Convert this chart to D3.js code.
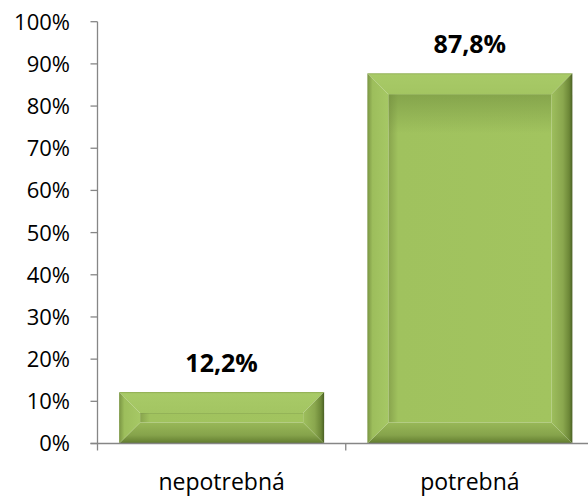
<!DOCTYPE html>
<html>
<head>
<meta charset="utf-8">
<script src="https://cdn.jsdelivr.net/npm/d3@7"></script>
<style>
  body { margin: 0; background: #fff; }
  text { font-family: 'Open Sans', 'Noto Sans', sans-serif; fill: #000; }
</style>
</head>
<body>
<svg id="chart" width="588" height="499"></svg>
<script>
// data
const categories = ['nepotrebná', 'potrebná']
const values = [0.122, 0.878]
const valueLabels = ['12,2%', '87,8%']
const yTicks = [0, 0.1, 0.2, 0.3, 0.4, 0.5, 0.6, 0.7, 0.8, 0.9, 1]

const svg = d3.select('#chart')

// plot area
const plotLeft = 97.5
const plotRight = 594
const plotTop = 21.7
const plotBottom = 443.5

const xPositionScale = d3.scaleBand()
  .domain(categories)
  .range([plotLeft, plotRight])
  .paddingInner(0.174)
  .paddingOuter(0.087)

const yPositionScale = d3.scaleLinear()
  .domain([0, 1])
  .range([plotBottom, plotTop])

// gradients for the bevelled look
const defs = svg.append('defs')
function grad(id, dir, stops) {
  const g = defs.append('linearGradient').attr('id', id)
  if (dir === 'v') g.attr('x1', 0).attr('y1', 0).attr('x2', 0).attr('y2', 1)
  else g.attr('x1', 0).attr('y1', 0).attr('x2', 1).attr('y2', 0)
  stops.forEach(s => g.append('stop').attr('offset', s[0]).attr('stop-color', s[1]))
}
grad('g-top', 'v', [[0, '#8eab52'], [0.08, '#a8ca67'], [1, '#a3c562']])
grad('g-left', 'h', [[0, '#7a9543'], [0.25, '#9dbe5c'], [1, '#a6c865']])
grad('g-right', 'h', [[0, '#9ebf5d'], [0.55, '#8aa74e'], [0.85, '#6c8737'], [1, '#4a6024']])
grad('g-bottom', 'v', [[0, '#98b858'], [0.6, '#86a34b'], [0.9, '#6a8535'], [1, '#55702a']])
grad('g-face-h', 'h', [[0, '#88a44d'], [0.06, '#a0c25e'], [1, '#a2c45f']])
grad('g-face-v', 'v', [[0, 'rgba(110,140,60,0.55)'], [0.12, 'rgba(110,140,60,0)'], [1, 'rgba(110,140,60,0)']])

// y axis
svg.append('line')
  .attr('x1', plotLeft).attr('x2', plotLeft)
  .attr('y1', plotTop).attr('y2', plotBottom)
  .attr('stroke', '#868686').attr('stroke-width', 1.3)

yTicks.forEach(t => {
  svg.append('line')
    .attr('x1', plotLeft - 7).attr('x2', plotLeft)
    .attr('y1', yPositionScale(t)).attr('y2', yPositionScale(t))
    .attr('stroke', '#868686').attr('stroke-width', 1.3)
  svg.append('text')
    .attr('x', 70)
    .attr('y', yPositionScale(t))
    .attr('dy', '0.36em')
    .attr('text-anchor', 'end')
    .attr('font-size', 22)
    .text(Math.round(t * 100) + '%')
})

// bars
categories.forEach((c, i) => {
  const x0 = xPositionScale(c)
  const x1 = x0 + xPositionScale.bandwidth()
  const y0 = yPositionScale(values[i])
  const y1 = yPositionScale(0)
  const h = y1 - y0
  const b = Math.min(21, h / 2 - 4)
  const g = svg.append('g')
  const poly = pts => pts.map(p => p.join(',')).join(' ')

  g.append('rect')
    .attr('x', x0 + b).attr('y', y0 + b)
    .attr('width', x1 - x0 - 2 * b).attr('height', h - 2 * b)
    .attr('fill', 'url(#g-face-h)')
  g.append('rect')
    .attr('x', x0 + b).attr('y', y0 + b)
    .attr('width', x1 - x0 - 2 * b).attr('height', h - 2 * b)
    .attr('fill', 'url(#g-face-v)')
  g.append('polygon')
    .attr('points', poly([[x0, y0], [x1, y0], [x1 - b, y0 + b], [x0 + b, y0 + b]]))
    .attr('fill', 'url(#g-top)')
  g.append('polygon')
    .attr('points', poly([[x0, y1], [x1, y1], [x1 - b, y1 - b], [x0 + b, y1 - b]]))
    .attr('fill', 'url(#g-bottom)')
  g.append('polygon')
    .attr('points', poly([[x0, y0], [x0 + b, y0 + b], [x0 + b, y1 - b], [x0, y1]]))
    .attr('fill', 'url(#g-left)')
  g.append('polygon')
    .attr('points', poly([[x1, y0], [x1 - b, y0 + b], [x1 - b, y1 - b], [x1, y1]]))
    .attr('fill', 'url(#g-right)')

  svg.append('text')
    .attr('x', (x0 + x1) / 2)
    .attr('y', y0 - 20)
    .attr('text-anchor', 'middle')
    .attr('font-size', 25)
    .attr('font-weight', 'bold')
    .text(valueLabels[i])

  svg.append('text')
    .attr('x', (x0 + x1) / 2)
    .attr('y', 490)
    .attr('text-anchor', 'middle')
    .attr('font-size', 23)
    .text(c)
})

// x axis
svg.append('line')
  .attr('x1', plotLeft - 7).attr('x2', plotRight)
  .attr('y1', plotBottom).attr('y2', plotBottom)
  .attr('stroke', '#868686').attr('stroke-width', 1.3)

const xStep = xPositionScale.step()
d3.range(categories.length + 1).forEach(k => {
  const x = plotLeft + k * xStep
  svg.append('line')
    .attr('x1', x).attr('x2', x)
    .attr('y1', plotBottom).attr('y2', plotBottom + 7)
    .attr('stroke', '#868686').attr('stroke-width', 1.3)
})
</script>
</body>
</html>
